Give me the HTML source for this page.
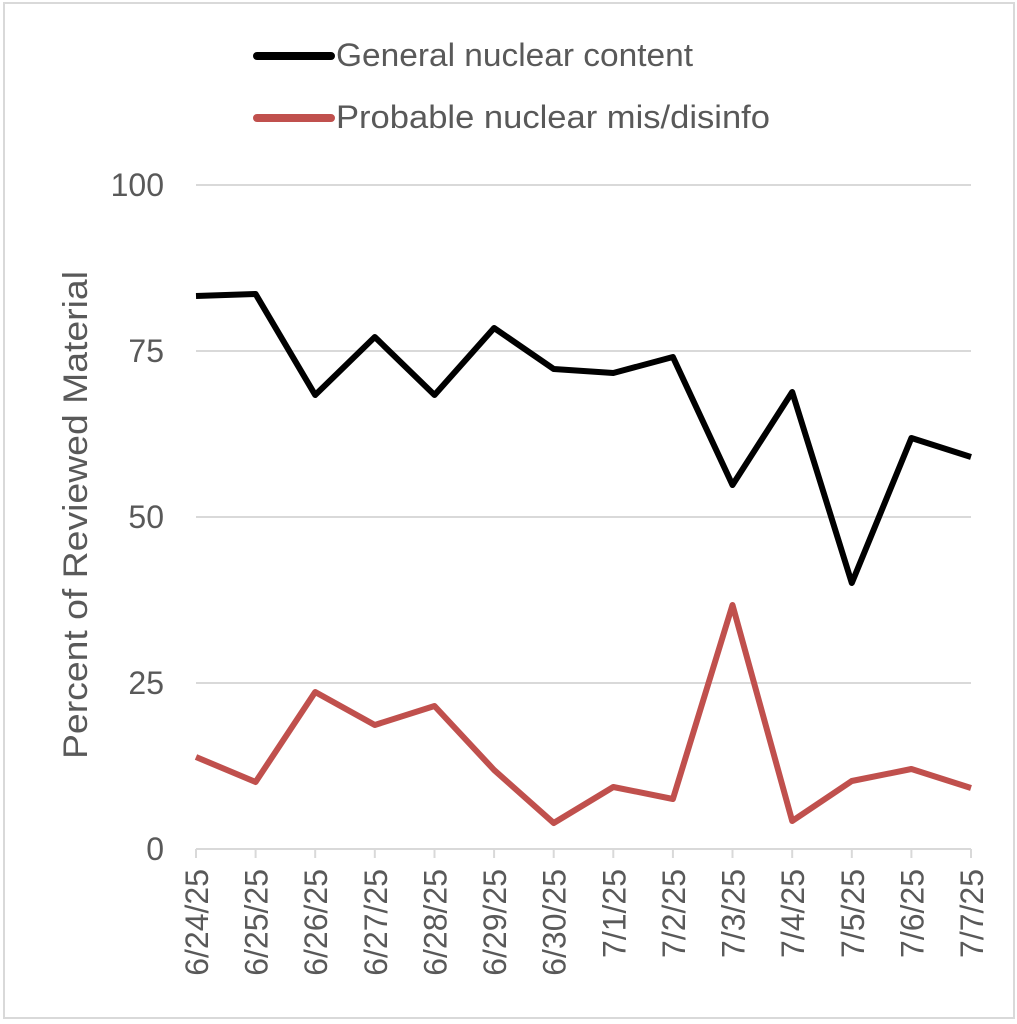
<!DOCTYPE html>
<html><head><style>
html,body{margin:0;padding:0;background:#fff;}
svg{display:block;}
text{font-family:"Liberation Sans",sans-serif;fill:#595959;}
</style></head><body>
<svg width="1017" height="1024" viewBox="0 0 1017 1024">
<rect x="4" y="3" width="1010" height="1015" fill="#fff" stroke="#d9d9d9" stroke-width="2"/>
<g stroke="#d9d9d9" stroke-width="2">
<line x1="196" y1="185" x2="971" y2="185"/>
<line x1="196" y1="351" x2="971" y2="351"/>
<line x1="196" y1="517" x2="971" y2="517"/>
<line x1="196" y1="683" x2="971" y2="683"/>
<line x1="196" y1="849" x2="971" y2="849"/>
<line x1="196" y1="849" x2="196" y2="858"/><line x1="255.6" y1="849" x2="255.6" y2="858"/><line x1="315.2" y1="849" x2="315.2" y2="858"/><line x1="374.8" y1="849" x2="374.8" y2="858"/><line x1="434.5" y1="849" x2="434.5" y2="858"/><line x1="494.1" y1="849" x2="494.1" y2="858"/><line x1="553.7" y1="849" x2="553.7" y2="858"/><line x1="613.3" y1="849" x2="613.3" y2="858"/><line x1="672.9" y1="849" x2="672.9" y2="858"/><line x1="732.5" y1="849" x2="732.5" y2="858"/><line x1="792.2" y1="849" x2="792.2" y2="858"/><line x1="851.8" y1="849" x2="851.8" y2="858"/><line x1="911.4" y1="849" x2="911.4" y2="858"/><line x1="971" y1="849" x2="971" y2="858"/>
</g>
<g font-size="32" text-anchor="end">
<text x="164" y="196">100</text><text x="164" y="362">75</text><text x="164" y="528">50</text><text x="164" y="694">25</text><text x="164" y="860">0</text>
</g>
<text transform="translate(87,515) rotate(-90)" font-size="34" text-anchor="middle" textLength="488" lengthAdjust="spacingAndGlyphs">Percent of Reviewed Material</text>
<g font-size="32" text-anchor="end">
<text transform="translate(208,869) rotate(-90)">6/24/25</text>
<text transform="translate(267.6,869) rotate(-90)">6/25/25</text>
<text transform="translate(327.2,869) rotate(-90)">6/26/25</text>
<text transform="translate(386.8,869) rotate(-90)">6/27/25</text>
<text transform="translate(446.5,869) rotate(-90)">6/28/25</text>
<text transform="translate(506.1,869) rotate(-90)">6/29/25</text>
<text transform="translate(565.7,869) rotate(-90)">6/30/25</text>
<text transform="translate(625.3,869) rotate(-90)">7/1/25</text>
<text transform="translate(684.9,869) rotate(-90)">7/2/25</text>
<text transform="translate(744.5,869) rotate(-90)">7/3/25</text>
<text transform="translate(804.2,869) rotate(-90)">7/4/25</text>
<text transform="translate(863.8,869) rotate(-90)">7/5/25</text>
<text transform="translate(923.4,869) rotate(-90)">7/6/25</text>
<text transform="translate(983,869) rotate(-90)">7/7/25</text>
</g>
<polyline fill="none" stroke="#000" stroke-width="6" stroke-linejoin="round" points="196,296 255.6,294 315.2,395 374.8,337 434.5,395 494.1,328 553.7,369 613.3,373 672.9,357 732.5,485 792.2,392 851.8,583 911.4,438 971,457"/>
<polyline fill="none" stroke="#c0504d" stroke-width="6" stroke-linejoin="round" points="196,757 255.6,782 315.2,692 374.8,725 434.5,706 494.1,770 553.7,823 613.3,787 672.9,799 732.5,605 792.2,821 851.8,781 911.4,769 971,788"/>
<line x1="257" y1="56" x2="331" y2="56" stroke="#000" stroke-width="8" stroke-linecap="round"/>
<line x1="257" y1="118" x2="331" y2="118" stroke="#c0504d" stroke-width="8" stroke-linecap="round"/>
<text x="336" y="66" font-size="32" textLength="357" lengthAdjust="spacingAndGlyphs">General nuclear content</text>
<text x="336" y="128" font-size="32" textLength="434" lengthAdjust="spacingAndGlyphs">Probable nuclear mis/disinfo</text>
</svg>
</body></html>
